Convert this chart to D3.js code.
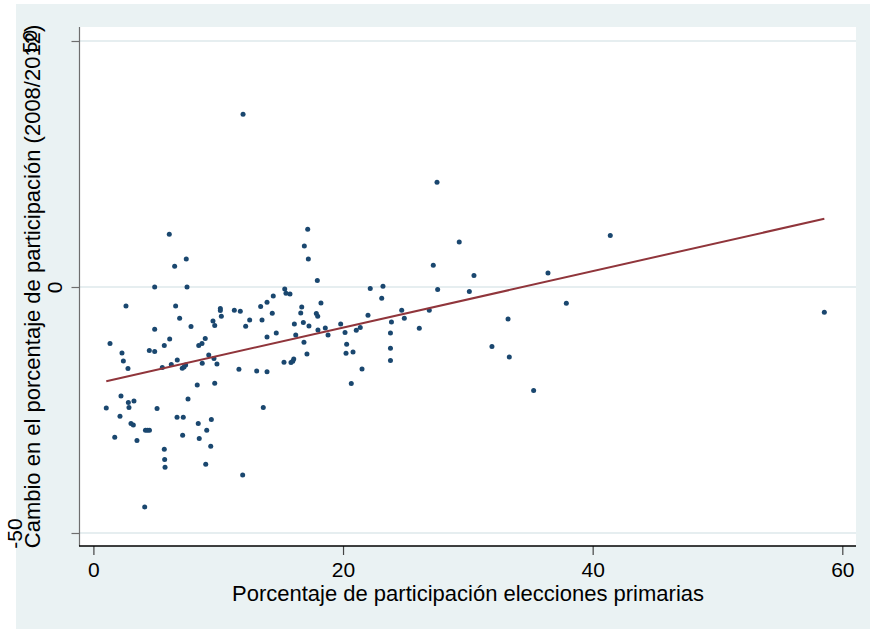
<!DOCTYPE html>
<html>
<head>
<meta charset="utf-8">
<script src="https://cdn.jsdelivr.net/npm/d3@7"></script>
<style>
  html, body { margin: 0; padding: 0; background: #ffffff; }
  svg { display: block; font-family: "Liberation Sans", Arial, Helvetica, sans-serif; }
</style>
</head>
<body>
<svg id="chart" width="870" height="629"></svg>
<script>
// Porcentaje de participación en primarias (x) vs. cambio en participación 2008/2012 (y)
const primaria = [
  6.08, 6.51, 7.44, 4.91, 7.50, 2.61, 6.59, 6.91, 10.17, 10.17,
  10.25, 11.29, 11.77, 12.52, 12.20, 13.40, 13.91, 14.41, 14.33, 13.51,
  14.65, 13.91, 7.82, 4.91, 9.58, 9.72, 8.96, 8.70, 8.44, 6.11,
  5.68, 4.48, 4.91, 1.33, 2.29, 2.40, 2.77, 6.72, 6.24, 5.52,
  7.39, 7.12, 7.26, 9.24, 8.72, 9.66, 9.90, 11.66, 13.08, 13.91,
  8.32, 9.72, 2.21, 2.80, 2.85, 3.25, 1.03, 5.10, 7.58, 2.13,
  3.01, 3.20, 1.71, 3.49, 4.17, 4.33, 4.49, 6.70, 7.20, 8.40,
  9.45, 9.08, 7.15, 8.48, 9.40, 5.68, 5.71, 5.74, 9.00, 11.96,
  13.61, 4.11, 17.17, 16.90, 17.22, 17.94, 15.33, 15.43, 15.75, 18.23,
  16.69, 16.61, 17.86, 17.97, 16.82, 17.27, 16.10, 16.21, 16.87, 17.11,
  15.27, 15.83, 15.97, 16.05, 17.99, 18.58, 18.80, 19.81, 20.16, 20.29,
  20.24, 20.80, 21.06, 21.38, 21.52, 20.66, 22.00, 22.18, 23.20, 23.10,
  23.88, 23.80, 23.80, 23.80, 27.53, 29.31, 27.23, 30.49, 27.58, 30.12,
  24.70, 24.91, 26.91, 26.11, 33.22, 31.93, 33.32, 35.27, 36.42, 37.89,
  41.41, 58.56, 11.99
];
const cambio = [
  10.73, 4.23, 5.71, 0.00, 0.00, -3.84, -3.84, -6.34, -4.37, -4.78,
  -5.93, -4.72, -4.92, -6.69, -7.97, -3.96, -3.09, -1.81, -5.33, -6.69,
  -9.33, -10.14, -8.03, -8.58, -6.89, -7.83, -10.47, -11.48, -11.89, -10.55,
  -11.89, -12.91, -13.11, -11.48, -13.39, -15.02, -16.57, -14.82, -15.75, -16.36,
  -15.83, -16.50, -16.24, -13.80, -15.49, -14.53, -15.63, -16.71, -17.05, -17.22,
  -19.90, -19.55, -22.13, -23.48, -24.49, -23.15, -24.57, -24.70, -22.74, -26.26,
  -27.74, -28.03, -30.53, -31.20, -29.11, -29.11, -29.11, -26.46, -26.46, -27.74,
  -26.93, -29.11, -30.12, -30.79, -32.36, -32.97, -35.06, -36.63, -36.02, -38.19,
  -24.49, -44.70, 11.75, 8.35, 5.71, 1.32, -0.39, -1.26, -1.40, -3.23,
  -4.04, -5.26, -5.39, -5.93, -7.22, -7.91, -7.50, -9.74, -11.22, -13.60,
  -15.28, -15.35, -15.08, -14.61, -8.72, -8.31, -9.74, -7.50, -9.25, -11.63,
  -13.46, -13.19, -8.78, -8.23, -16.65, -19.61, -5.73, -0.30, 0.16, -2.28,
  -7.09, -9.33, -12.44, -14.94, 21.30, 9.17, 4.43, 2.34, -0.51, -0.91,
  -4.72, -6.34, -4.72, -8.37, -6.48, -12.09, -14.21, -21.04, 2.87, -3.29,
  10.47, -5.12, 35.12
];
const xTicks = [0, 20, 40, 60];
const yTicks = [-50, 0, 50];
const xTitle = "Porcentaje de participación elecciones primarias";
const yTitle = "Cambio en el porcentaje de participación (2008/2012)";

const svg = d3.select("#chart");
const W = 870, H = 629;
const plot = { left: 80, right: 856, top: 27, bottom: 546 };

const navy = "#1a476f", maroon = "#90353b", bluishGray = "#eaf2f3";

const x = d3.scaleLinear().domain([0, 60]).range([93.4, 842.3]);
const y = d3.scaleLinear().domain([-50, 50]).range([533, 41]);

// plain hyphen-minus for negative tick values
const fmt = d => String(d);

// graph region and plot region
svg.append("rect").attr("x", 16).attr("y", 4).attr("width", W - 16).attr("height", H - 4)
  .attr("fill", bluishGray);
svg.append("rect").attr("x", plot.left).attr("y", plot.top)
  .attr("width", plot.right - plot.left).attr("height", plot.bottom - plot.top)
  .attr("fill", "#ffffff");

// horizontal grid lines
svg.append("g").selectAll("line").data(yTicks).join("line")
  .attr("x1", plot.left).attr("x2", plot.right)
  .attr("y1", d => y(d)).attr("y2", d => y(d))
  .attr("stroke", "#e6eef0").attr("stroke-width", 2);

// linear fit (least squares) over the observed x range
const n = primaria.length;
const mx = d3.mean(primaria), my = d3.mean(cambio);
let sxy = 0, sxx = 0;
for (let i = 0; i < n; i++) {
  sxy += (primaria[i] - mx) * (cambio[i] - my);
  sxx += (primaria[i] - mx) ** 2;
}
const slope = sxy / sxx, intercept = my - slope * mx;
const [xmin, xmax] = d3.extent(primaria);

// scatter points
const pts = primaria.map((v, i) => ({ x: v, y: cambio[i] }));
svg.append("g").selectAll("circle").data(pts).join("circle")
  .attr("cx", d => x(d.x)).attr("cy", d => y(d.y)).attr("r", 2.5)
  .attr("fill", navy);

svg.append("line")
  .attr("x1", x(xmin)).attr("y1", y(intercept + slope * xmin))
  .attr("x2", x(xmax)).attr("y2", y(intercept + slope * xmax))
  .attr("stroke", maroon).attr("stroke-width", 2);

// y axis
const yAxis = svg.append("g").attr("transform", `translate(${plot.left - 0.5},0)`)
  .call(d3.axisLeft(y).tickValues(yTicks).tickSize(8).tickSizeOuter(0).tickFormat(fmt));
yAxis.select(".domain").remove();
yAxis.append("line").attr("x1", 0).attr("x2", 0).attr("y1", plot.top).attr("y2", plot.bottom)
  .attr("stroke", "#6e6e6e").attr("stroke-width", 1.2);
yAxis.selectAll(".tick line").attr("stroke", "#6e6e6e").attr("stroke-width", 1.2);
const yLabels = yAxis.selectAll(".tick text")
  .attr("font-size", 21).attr("fill", "#000").attr("font-family", "Liberation Sans, Arial, sans-serif");
// vertical tick labels; wider labels sit further out from the axis
const w0 = (() => {
  const t = svg.append("text").attr("font-size", 21).text("0");
  const w = t.node().getComputedTextLength(); t.remove(); return w;
})();
yLabels.each(function (d) {
  const w = this.getComputedTextLength();
  const bx = -18 - 2.1 * (w - w0);
  d3.select(this)
    .attr("x", null).attr("dy", null).attr("y", null)
    .attr("text-anchor", "middle")
    .attr("transform", `translate(${bx},0) rotate(-90)`);
});

// x axis
const xAxis = svg.append("g").attr("transform", `translate(0,${plot.bottom})`)
  .call(d3.axisBottom(x).tickValues(xTicks).tickSize(9).tickSizeOuter(0).tickFormat(fmt));
xAxis.select(".domain").remove();
xAxis.append("line").attr("x1", plot.left - 1).attr("x2", plot.right).attr("y1", 0).attr("y2", 0)
  .attr("stroke", "#000").attr("stroke-width", 1.4);
xAxis.selectAll(".tick line").attr("stroke", "#444").attr("stroke-width", 1.2);
xAxis.selectAll(".tick text")
  .attr("font-size", 21).attr("fill", "#000").attr("font-family", "Liberation Sans, Arial, sans-serif")
  .attr("dy", null).attr("y", 31);

// titles
svg.append("text")
  .attr("x", (plot.left + plot.right) / 2).attr("y", 601)
  .attr("text-anchor", "middle").attr("font-size", 22).attr("fill", "#000")
  .text(xTitle);
svg.append("text")
  .attr("transform", `translate(40,${(plot.top + plot.bottom) / 2}) rotate(-90)`)
  .attr("text-anchor", "middle").attr("font-size", 22).attr("fill", "#000")
  .text(yTitle);
</script>
</body>
</html>
